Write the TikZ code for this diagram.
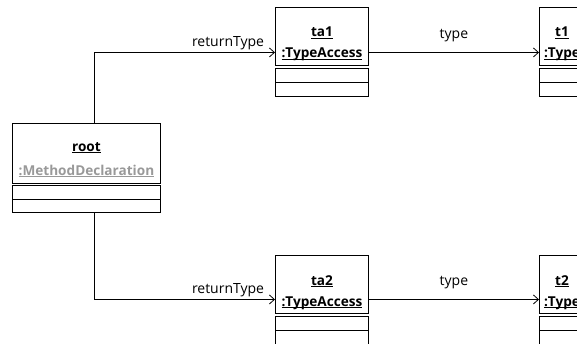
\documentclass[tikz,border=0pt]{standalone}
\usepackage{fontspec}
\setmainfont{Open Sans}
\usetikzlibrary{arrows.meta}

% nome di oggetto sottolineato, linea sopra i discendenti
\newcommand{\objname}[1]{\underline{\raisebox{0pt}[\height][0pt]{#1}}}

\begin{document}
\begin{tikzpicture}[
    x=1pt, y=-1pt,
    every node/.style={font=\fontsize{14}{16}\selectfont},
    object/.style={
        rectangle,
        draw,
        line width=0.9pt,
        anchor=north west,
        inner sep=0pt,
        minimum width=93pt,
        minimum height=58pt
    },
    compartment/.style={
        draw,
        line width=0.9pt
    },
    title/.style={
        anchor=north,
        align=center,
        inner sep=0pt,
        font=\fontsize{13.6}{21}\selectfont\bfseries
    },
    link/.style={
        -{Straight Barb[length=5pt,width=9pt]},
        line width=0.8pt
    },
    role/.style={
        above,
        inner sep=2pt
    }
]

\useasboundingbox (0,0) rectangle (577,343);
\clip (0,0) rectangle (577,343);

% Oggetti
\node[object, minimum width=148pt, minimum height=60pt] (root) at (12,123) {};
\node[object] (ta1) at (275,7) {};
\node[object] (t1) at (539,7) {};
\node[object] (ta2) at (275,255) {};
\node[object] (t2) at (539,255) {};

% Nomi
\node[title] (root text) at ([yshift=-19pt]root.north)
    {\objname{root}\\[3pt]\textcolor{black!40}{\objname{:MethodDeclaration}}};
\node[title] (ta1 text) at ([yshift=-20pt]ta1.north)
    {\objname{ta1}\\\objname{:TypeAccess}};
\node[title] (t1 text) at ([xshift=23pt, yshift=-20pt]t1.north west)
    {\objname{t1}\\\objname{:Type}};
\node[title] (ta2 text) at ([yshift=-20pt]ta2.north)
    {\objname{ta2}\\\objname{:TypeAccess}};
\node[title] (t2 text) at ([xshift=23pt, yshift=-20pt]t2.north west)
    {\objname{t2}\\\objname{:Type}};

% Compartimenti
\draw[compartment] ([yshift=-2pt]root.south west) rectangle ([yshift=-29pt]root.south east);
\draw[compartment] ([yshift=-16pt]root.south west) -- ([yshift=-16pt]root.south east);
\draw[compartment] ([yshift=-3pt]ta1.south west) rectangle ([yshift=-31pt]ta1.south east);
\draw[compartment] ([yshift=-17pt]ta1.south west) -- ([yshift=-17pt]ta1.south east);
\draw[compartment] ([yshift=-3pt]t1.south west) rectangle ([yshift=-31pt]t1.south east);
\draw[compartment] ([yshift=-17pt]t1.south west) -- ([yshift=-17pt]t1.south east);
\draw[compartment] ([yshift=-3pt]ta2.south west) rectangle ([yshift=-31pt]ta2.south east);
\draw[compartment] ([yshift=-17pt]ta2.south west) -- ([yshift=-17pt]ta2.south east);
\draw[compartment] ([yshift=-3pt]t2.south west) rectangle ([yshift=-31pt]t2.south east);
\draw[compartment] ([yshift=-17pt]t2.south west) -- ([yshift=-17pt]t2.south east);

% Collegamenti
\draw[link] ([xshift=8pt]root.north) |- ([yshift=-16pt]ta1.west)
    node[role, pos=0.87] {returnType};
\draw[link] ([xshift=8pt, yshift=-29pt]root.south) |- ([yshift=-15pt]ta2.west)
    node[role, pos=0.87] {returnType};
\draw[link] ([yshift=-16pt]ta1.east) -- ([yshift=-16pt]t1.west)
    node[role, midway, inner sep=10pt] {type};
\draw[link] ([yshift=-15pt]ta2.east) -- ([yshift=-15pt]t2.west)
    node[role, midway, inner sep=10pt] {type};

\end{tikzpicture}
\end{document}
